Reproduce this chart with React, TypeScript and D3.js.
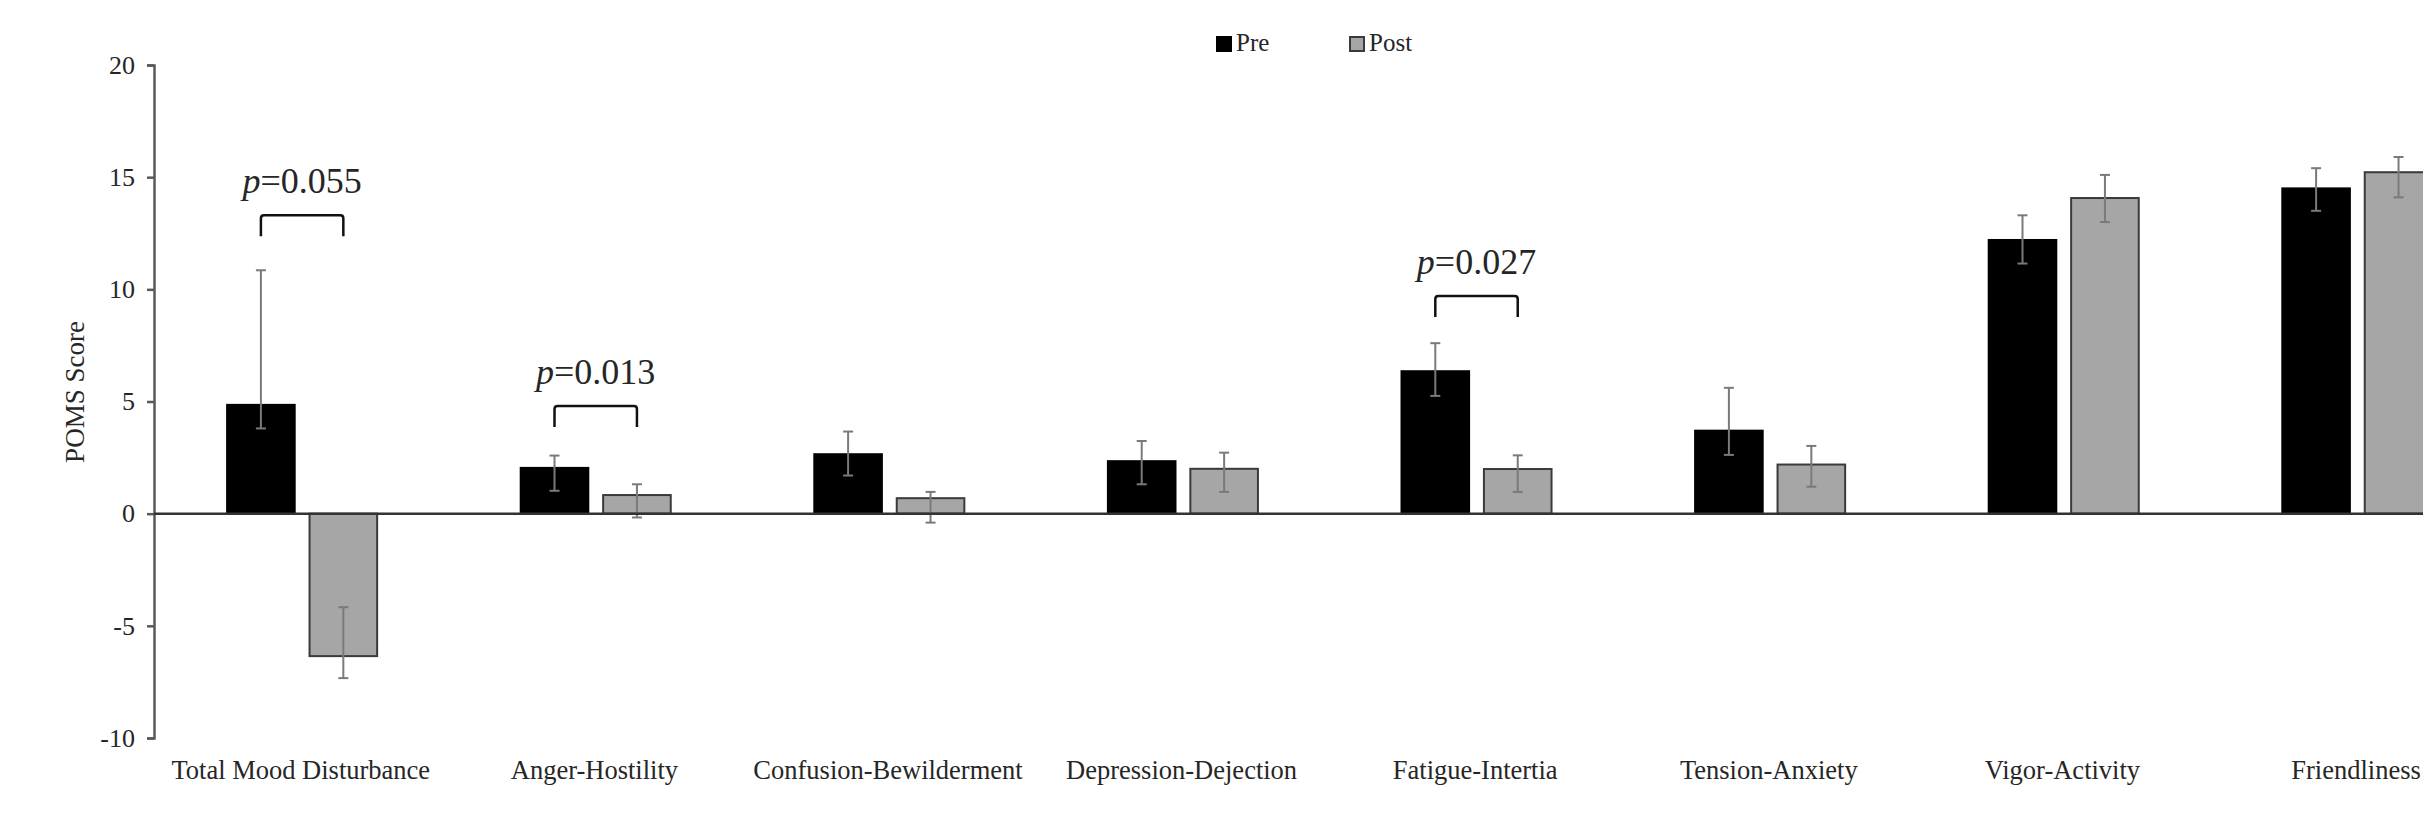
import React, { useEffect, useRef } from 'react'
import * as d3 from 'd3'

const categories = [
  'Total Mood Disturbance',
  'Anger-Hostility',
  'Confusion-Bewilderment',
  'Depression-Dejection',
  'Fatigue-Intertia',
  'Tension-Anxiety',
  'Vigor-Activity',
  'Friendliness',
]
const series = ['Pre', 'Post']
const preMean = [4.85, 2.04, 2.65, 2.34, 6.35, 3.7, 12.2, 14.5]
const postMean = [-6.35, 0.83, 0.69, 2.0, 1.99, 2.19, 14.07, 15.22]
const preErrHigh = [10.85, 2.59, 3.66, 3.24, 7.6, 5.61, 13.3, 15.4]
const preErrLow = [3.8, 1.02, 1.7, 1.31, 5.25, 2.62, 11.15, 13.5]
const postErrHigh = [-4.17, 1.31, 0.97, 2.72, 2.6, 3.02, 15.1, 15.9]
const postErrLow = [-7.33, -0.17, -0.4, 0.97, 0.97, 1.2, 13.0, 14.1]
const yTicks = [-10, -5, 0, 5, 10, 15, 20]

// significance annotations
const sigCategories = ['Total Mood Disturbance', 'Anger-Hostility', 'Fatigue-Intertia']
const sigPValues = ['0.055', '0.013', '0.027']
const sigLevels = [13.3, 4.8, 9.7]

const W = 2423
const H = 815
const font = '"Liberation Serif", "Times New Roman", serif'

export default function App() {
  const ref = useRef<SVGSVGElement>(null)

  useEffect(() => {
    const svg = d3.select(ref.current)
    svg.selectAll('*').remove()

    const left = 154
    const bandW = 293.6
    const x = d3.scaleBand().domain(categories).range([left, left + bandW * categories.length]).padding(0)
    const xs = d3.scaleBand().domain(series)
      .range([x.bandwidth() * 0.249, x.bandwidth() * 0.76])
      .paddingInner(0.18)
    const y = d3.scaleLinear().domain([-10, 20]).range([738, 65])

    // y axis
    const yAxis = d3.axisLeft(y).tickValues(yTicks).tickSize(7).tickPadding(12).tickFormat(d => String(d))
    const yg = svg.append('g').attr('transform', `translate(${left},0)`).call(yAxis)
    yg.select('.domain').attr('stroke', '#595959').attr('stroke-width', 2.5)
    yg.selectAll('.tick line').attr('stroke', '#595959').attr('stroke-width', 2.5)
    yg.selectAll('.tick text')
      .attr('font-family', font).attr('font-size', 26).attr('fill', '#262626')

    svg.append('text')
      .attr('transform', `translate(84,392) rotate(-90)`)
      .attr('text-anchor', 'middle')
      .attr('font-family', font).attr('font-size', 27).attr('fill', '#262626')
      .text('POMS Score')

    const rows = categories.map((c, i) => ({
      cat: c,
      vals: [
        { s: 'Pre', v: preMean[i], hi: preErrHigh[i], lo: preErrLow[i] },
        { s: 'Post', v: postMean[i], hi: postErrHigh[i], lo: postErrLow[i] },
      ],
    }))

    const groups = svg.append('g').selectAll('g').data(rows).enter().append('g')
      .attr('transform', d => `translate(${x(d.cat)},0)`)

    groups.selectAll('rect').data(d => d.vals).enter().append('rect')
      .attr('x', d => xs(d.s)!)
      .attr('width', xs.bandwidth())
      .attr('y', d => y(Math.max(0, d.v)))
      .attr('height', d => Math.abs(y(d.v) - y(0)))
      .attr('fill', d => (d.s === 'Pre' ? '#000000' : '#a6a6a6'))
      .attr('stroke', d => (d.s === 'Pre' ? '#000000' : '#3a3a3a'))
      .attr('stroke-width', 2)

    // error bars
    const eb = groups.selectAll('g.err').data(d => d.vals).enter().append('g').attr('class', 'err')
      .attr('stroke', '#7a7a7a').attr('stroke-width', 2)
    const cx = (d: any) => xs(d.s)! + xs.bandwidth() / 2
    eb.append('line').attr('x1', cx).attr('x2', cx).attr('y1', d => y(d.hi)).attr('y2', d => y(d.lo))
    eb.append('line').attr('x1', d => cx(d) - 5).attr('x2', d => cx(d) + 5).attr('y1', d => y(d.hi)).attr('y2', d => y(d.hi))
    eb.append('line').attr('x1', d => cx(d) - 5).attr('x2', d => cx(d) + 5).attr('y1', d => y(d.lo)).attr('y2', d => y(d.lo))

    // zero line
    svg.append('line').attr('x1', left).attr('x2', W).attr('y1', y(0)).attr('y2', y(0))
      .attr('stroke', '#333333').attr('stroke-width', 2.5)

    // category labels
    svg.append('g').selectAll('text').data(categories).enter().append('text')
      .attr('x', d => x(d)! + x.bandwidth() / 2)
      .attr('y', 779)
      .attr('text-anchor', 'middle')
      .attr('font-family', font).attr('font-size', 26.5).attr('fill', '#262626')
      .text(d => d)

    // significance brackets
    sigCategories.forEach((c, i) => {
      const x0 = x(c)! + xs('Pre')! + xs.bandwidth() / 2
      const x1 = x(c)! + xs('Post')! + xs.bandwidth() / 2
      const yt = y(sigLevels[i])
      const path = d3.path()
      path.moveTo(x0, yt + 21)
      path.lineTo(x0, yt + 3)
      path.quadraticCurveTo(x0, yt, x0 + 3, yt)
      path.lineTo(x1 - 3, yt)
      path.quadraticCurveTo(x1, yt, x1, yt + 3)
      path.lineTo(x1, yt + 21)
      svg.append('path').attr('d', path.toString())
        .attr('fill', 'none').attr('stroke', '#111').attr('stroke-width', 2.5)
      const t = svg.append('text')
        .attr('x', (x0 + x1) / 2).attr('y', yt - 22)
        .attr('text-anchor', 'middle')
        .attr('font-family', font).attr('font-size', 36).attr('fill', '#262626')
      t.append('tspan').attr('font-style', 'italic').text('p')
      t.append('tspan').text('=' + sigPValues[i])
    })

    // legend
    const lg = svg.append('g').attr('font-family', font).attr('font-size', 25).attr('fill', '#262626')
    const legendX = [1217, 1350]
    series.forEach((s, i) => {
      lg.append('rect').attr('x', legendX[i]).attr('y', 37).attr('width', 14).attr('height', 14)
        .attr('fill', s === 'Pre' ? '#000' : '#a6a6a6')
        .attr('stroke', s === 'Pre' ? '#000' : '#3a3a3a').attr('stroke-width', 2)
      lg.append('text').attr('x', legendX[i] + 19).attr('y', 51).text(s)
    })
  }, [])

  return (
    <div style={{ position: 'fixed', left: 0, top: 0, background: '#fff' }}>
      <svg ref={ref} width={W} height={H} style={{ display: 'block' }}></svg>
    </div>
  )
}
